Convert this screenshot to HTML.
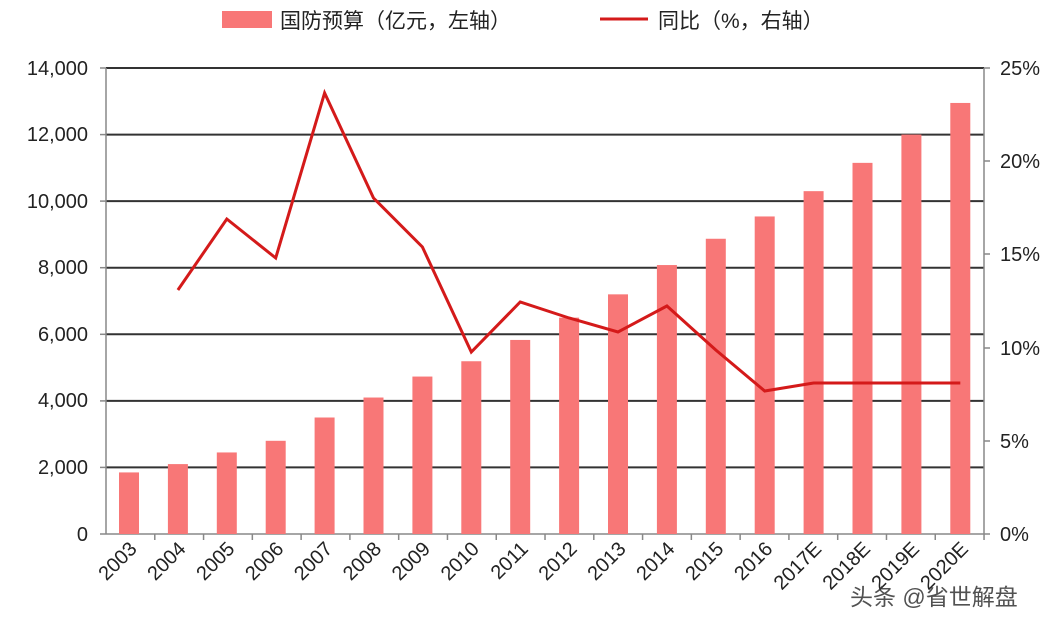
<!DOCTYPE html>
<html><head><meta charset="utf-8"><style>body{margin:0;background:#fff}svg{display:block}</style></head><body>
<svg width="1064" height="624" xmlns="http://www.w3.org/2000/svg" font-family="Liberation Sans, Noto Sans CJK SC, sans-serif">
<rect width="1064" height="624" fill="#fff"/>
<rect x="222" y="11" width="50" height="17" fill="#f87777"/>
<text x="280" y="28" font-size="21" fill="#222">国防预算（亿元，左轴）</text>
<line x1="600" y1="19" x2="648" y2="19" stroke="#d41a1a" stroke-width="3"/>
<text x="658" y="28" font-size="21" fill="#222">同比（%，右轴）</text>
<g stroke="#333" stroke-width="2">
<line x1="106" y1="68" x2="984" y2="68"/>
<line x1="106" y1="134.6" x2="984" y2="134.6"/>
<line x1="106" y1="201.1" x2="984" y2="201.1"/>
<line x1="106" y1="267.7" x2="984" y2="267.7"/>
<line x1="106" y1="334.3" x2="984" y2="334.3"/>
<line x1="106" y1="400.9" x2="984" y2="400.9"/>
<line x1="106" y1="467.4" x2="984" y2="467.4"/>
</g>
<g stroke="#888" stroke-width="1.5">
<line x1="106" y1="68" x2="106" y2="534"/>
<line x1="984" y1="68" x2="984" y2="534"/>
<line x1="106" y1="534" x2="984" y2="534"/>
<line x1="100" y1="68" x2="106" y2="68"/><line x1="100" y1="134.6" x2="106" y2="134.6"/><line x1="100" y1="201.1" x2="106" y2="201.1"/><line x1="100" y1="267.7" x2="106" y2="267.7"/><line x1="100" y1="334.3" x2="106" y2="334.3"/><line x1="100" y1="400.9" x2="106" y2="400.9"/><line x1="100" y1="467.4" x2="106" y2="467.4"/><line x1="100" y1="534" x2="106" y2="534"/>
<line x1="984" y1="68" x2="990" y2="68"/><line x1="984" y1="161" x2="990" y2="161"/><line x1="984" y1="254" x2="990" y2="254"/><line x1="984" y1="348" x2="990" y2="348"/><line x1="984" y1="441" x2="990" y2="441"/><line x1="984" y1="534" x2="990" y2="534"/>
</g>
<g stroke="#888" stroke-width="1.5" id="xt"></g>
<g fill="#f87777" id="bars"></g>
<polyline id="ln" fill="none" stroke="#d41a1a" stroke-width="3" stroke-linejoin="miter"/>
<g font-size="20" fill="#222" text-anchor="end">
<text x="88" y="75">14,000</text><text x="88" y="141">12,000</text><text x="88" y="208">10,000</text><text x="88" y="274">8,000</text><text x="88" y="341">6,000</text><text x="88" y="407">4,000</text><text x="88" y="474">2,000</text><text x="88" y="541">0</text>
</g>
<g font-size="20" fill="#222">
<text x="1000" y="75">25%</text><text x="1000" y="168">20%</text><text x="1000" y="261">15%</text><text x="1000" y="355">10%</text><text x="1000" y="448">5%</text><text x="1000" y="541">0%</text>
</g>
<g id="xl" font-size="20" fill="#222" text-anchor="end"></g>
<text x="850" y="605" font-size="23" fill="#333" opacity="0.85">头条 @省世解盘</text>
<script>
var v=[1850,2100,2450,2800,3500,4100,4730,5190,5830,6500,7200,8080,8870,9540,10300,11150,12000,12950];
var lab=["2003","2004","2005","2006","2007","2008","2009","2010","2011","2012","2013","2014","2015","2016","2017E","2018E","2019E","2020E"];
var ly=[null,290,219,258,93,198,247,352,302,318,332,306,350,391,383,383,383,383];
var ns="http://www.w3.org/2000/svg",b=document.getElementById('bars'),xl=document.getElementById('xl'),xt=document.getElementById('xt'),pts=[];
for(var i=0;i<18;i++){var cx=129+i*48.9;var h=v[i]/14000*466;
var r=document.createElementNS(ns,'rect');r.setAttribute('x',cx-10);r.setAttribute('y',534-h);r.setAttribute('width',20);r.setAttribute('height',h);b.appendChild(r);
var t=document.createElementNS(ns,'line');var tx=106+(i+1)*48.78;t.setAttribute('x1',tx);t.setAttribute('x2',tx);t.setAttribute('y1',534);t.setAttribute('y2',540);xt.appendChild(t);
var s=document.createElementNS(ns,'text');s.setAttribute('transform','translate('+(cx+9)+',550) rotate(-45)');s.textContent=lab[i];xl.appendChild(s);
if(ly[i]!==null)pts.push(cx+','+ly[i]);}
document.getElementById('ln').setAttribute('points',pts.join(' '));
</script>
</svg>
</body></html>
